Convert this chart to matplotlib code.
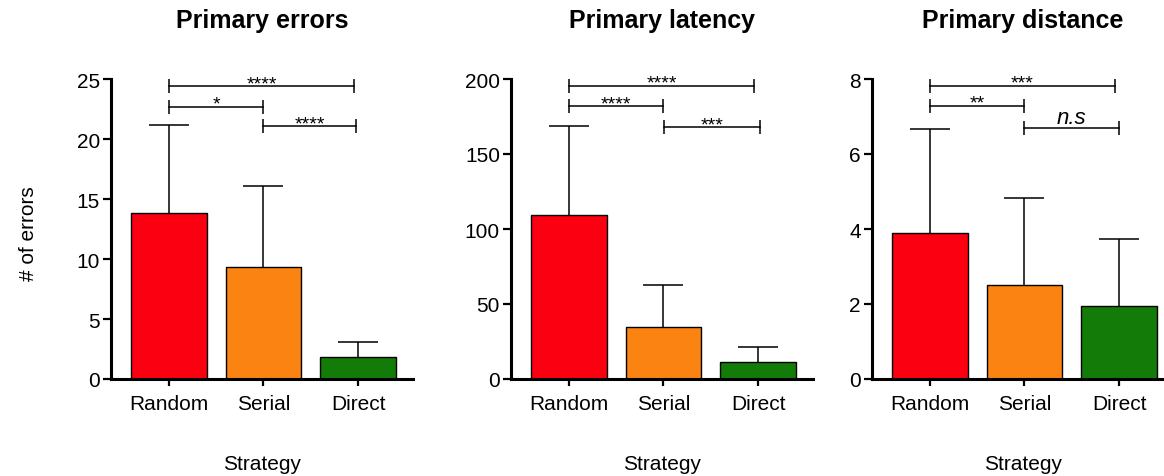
import matplotlib
matplotlib.use("Agg")
import matplotlib.pyplot as plt
import numpy as np

plt.rcParams['font.family'] = ['Liberation Sans', 'DejaVu Sans']

strategies = ["Random", "Serial", "Direct"]
bar_colors = ["#FA0010", "#FB8312", "#137B08"]

titles = ["Primary errors", "Primary latency", "Primary distance"]

errors_mean = [13.8, 9.3, 1.8]
errors_sd = [7.35, 6.8, 1.3]
latency_mean = [109.2, 35.0, 11.6]
latency_sd = [59.6, 27.7, 10.0]
distance_mean = [3.9, 2.51, 1.94]
distance_sd = [2.77, 2.31, 1.79]

y_max = [25, 200, 8]
y_step = [5, 50, 2]

# significance brackets: (start, end, height, label)
errors_sig = [(0, 1.96, 24.4, "****"), (0, 1.0, 22.7, "*"), (1.0, 1.98, 21.06, "****")]
latency_sig = [(0, 1.96, 195.5, "****"), (0, 1.0, 182.0, "****"), (1.01, 2.02, 167.7, "***")]
distance_sig = [(0, 1.96, 7.82, "***"), (0, 1.0, 7.29, "**"), (1.0, 2.0, 6.69, "n.s")]

means = [errors_mean, latency_mean, distance_mean]
sds = [errors_sd, latency_sd, distance_sd]
sigs = [errors_sig, latency_sig, distance_sig]

W, H = 1164, 477
fig = plt.figure(figsize=(W / 100, H / 100), dpi=100)

lefts = [111, 511, 872]
ax_w = 302
ax_bottom = 380
ax_top = 80

x = np.arange(len(strategies))
for i in range(3):
    ax = fig.add_axes([lefts[i] / W, 1 - ax_bottom / H, ax_w / W, (ax_bottom - ax_top) / H])
    m = np.array(means[i])
    tops = m + np.array(sds[i])
    ax.bar(x, m, width=0.8, color=bar_colors, edgecolor="black", linewidth=1.0, zorder=2)
    # upper error bars only, cap on top
    ax.vlines(x, m, tops, color="black", lw=1.1, zorder=1)
    ax.plot(x, tops, ls="none", marker="_", ms=29, mew=1.1, color="black", zorder=1)

    for x1, x2, h, label in sigs[i]:
        ax.plot([x1, x2], [h, h], color="black", lw=1.1, clip_on=False)
        ax.plot([x1, x2], [h, h], ls="none", marker="|", ms=9.5, mew=1.1, color="black", clip_on=False)
        if label == "n.s":
            ax.annotate(label, xy=((x1 + x2) / 2, h), xytext=(0, 3.5), textcoords="offset points",
                        ha="center", va="baseline", fontsize=16, style="italic")
        else:
            ax.annotate(label, xy=((x1 + x2) / 2, h), xytext=(0, -1.5), textcoords="offset points",
                        ha="center", va="baseline", fontsize=14)

    ax.set_xlim(-0.61, 2.58)
    ax.set_ylim(0, y_max[i])
    ax.set_yticks(np.arange(0, y_max[i] + 0.1, y_step[i]))
    ax.set_xticks(x)
    ax.set_xticklabels(strategies)
    ax.tick_params(axis="both", labelsize=15, width=1.6, direction="out")
    ax.tick_params(axis="x", length=5, pad=6)
    ax.tick_params(axis="y", length=6, pad=2)
    for side in ["top", "right"]:
        ax.spines[side].set_visible(False)
    for side in ["left", "bottom"]:
        ax.spines[side].set_linewidth(2.2)

    ax.set_xlabel("Strategy", fontsize=15)
    ax.xaxis.set_label_coords(0.5, -0.25)
    ax.text(0.5, 1 + 52 / 300, titles[i], transform=ax.transAxes, ha="center", va="baseline",
            fontsize=18, fontweight="bold")

fig.text(28 / W, 0.51, "# of errors", rotation=90, ha="center", va="center", fontsize=15)

fig.savefig("out.png", dpi=100)
